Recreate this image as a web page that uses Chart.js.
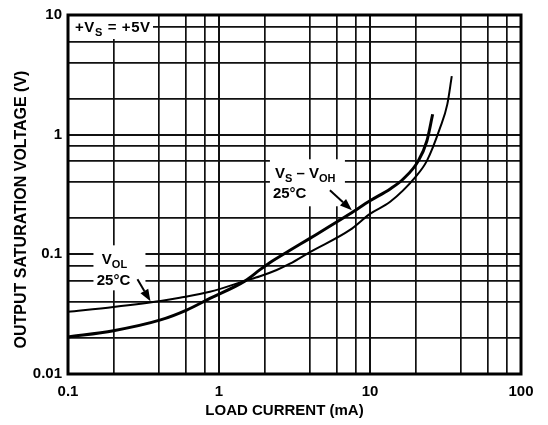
<!DOCTYPE html>
<html><head><meta charset="utf-8">
<script src="https://cdn.jsdelivr.net/npm/chart.js@4.4.0/dist/chart.umd.min.js"></script>
<style>html,body{margin:0;padding:0;background:#fff}</style>
</head><body>
<canvas id="c" width="548" height="425"></canvas>
<script>
// Grid / tick positions
const xTicks = [0.1,0.2,0.4,0.6,0.8,1,2,4,6,8,10,20,40,60,80,100];
const yTicks = [0.01,0.02,0.04,0.06,0.08,0.1,0.2,0.4,0.6,0.8,1,2,4,6,8,10];
const xLabels = [0.1,1,10,100];
const yLabels = [0.01,0.1,1,10];
const xTitle = 'LOAD CURRENT (mA)';
const yTitle = 'OUTPUT SATURATION VOLTAGE (V)';

// V_OL 25°C (thin curve)
const volCurrent = [0.1,0.2,0.41,0.55,0.87,1.49,1.87,2.41,2.95,4.0,7.37,10,13.6,19.9,23.8,29.1,32.5,34.8];
const volVoltage = [0.0331,0.0363,0.0407,0.0433,0.0486,0.060,0.0656,0.0740,0.0835,0.1044,0.160,0.218,0.275,0.44,0.604,1.14,1.79,3.08];

// V_S - V_OH 25°C (thick curve)
const vohCurrent = [0.1,0.2,0.41,0.61,0.87,1.49,1.87,2.18,2.95,4.0,7.37,10,13.6,16.6,20.9,23.8,26.0];
const vohVoltage = [0.0204,0.0230,0.0283,0.0342,0.0428,0.060,0.0745,0.0855,0.108,0.136,0.218,0.28,0.352,0.426,0.604,0.885,1.48];

const FONT = '"Liberation Sans", Arial, Helvetica, sans-serif';

function pts(xs, ys){ return xs.map((x,i)=>({x:x, y:ys[i]})); }

function drawRich(ctx, parts, x, y, align){
  let w = 0;
  parts.forEach(p=>{ ctx.font = 'bold ' + (p.sub?11:15) + 'px ' + FONT; p.w = ctx.measureText(p.t).width; w += p.w; });
  let cx = align === 'center' ? x - w/2 : x;
  ctx.textAlign = 'left'; ctx.textBaseline = 'alphabetic'; ctx.fillStyle = '#000';
  parts.forEach(p=>{ ctx.font = 'bold ' + (p.sub?11:15) + 'px ' + FONT; ctx.fillText(p.t, cx, y + (p.sub?4:0)); cx += p.w; });
}
function arrow(ctx, x1, y1, x2, y2){
  const a = Math.atan2(y2-y1, x2-x1), L = 12, H = 4.5;
  const bx = x2 - L*Math.cos(a), by = y2 - L*Math.sin(a);
  ctx.strokeStyle = '#000'; ctx.lineWidth = 2;
  ctx.beginPath(); ctx.moveTo(x1,y1); ctx.lineTo(bx,by); ctx.stroke();
  ctx.fillStyle = '#000'; ctx.beginPath();
  ctx.moveTo(x2,y2);
  ctx.lineTo(bx + H*Math.sin(a), by - H*Math.cos(a));
  ctx.lineTo(bx - H*Math.sin(a), by + H*Math.cos(a));
  ctx.closePath(); ctx.fill();
}

const annotations = {
  id: 'annotations',
  beforeDatasetsDraw(chart){
    const {ctx, chartArea: ca, scales: {x, y}} = chart;
    ctx.save();
    ctx.fillStyle = '#fff';
    // supply label
    ctx.fillRect(ca.left+1, ca.top+1, 84, 23);
    ctx.letterSpacing = '0.6px';
    drawRich(ctx, [{t:'+V'},{t:'S',sub:true},{t:' = +5V'}], ca.left+7, ca.top+17, 'left');
    ctx.letterSpacing = '0px';
    // V_OL label
    let ax = x.getPixelForValue(0.2), ay = y.getPixelForValue(0.1);
    ctx.fillStyle = '#fff'; ctx.fillRect(ax-20, ay-9, 52, 45);
    drawRich(ctx, [{t:'V'},{t:'OL',sub:true}], ax+1, ay+10, 'center');
    drawRich(ctx, [{t:'25°C'}], ax, ay+31, 'center');
    arrow(ctx, ax+24, ay+25, ax+37, ay+47);
    // V_S - V_OH label
    ax = x.getPixelForValue(4); ay = y.getPixelForValue(0.4);
    ctx.fillStyle = '#fff'; ctx.fillRect(ax-40, ay-23, 75, 47);
    drawRich(ctx, [{t:'V'},{t:'S',sub:true},{t:' – V'},{t:'OH',sub:true}], ax-35, ay-4, 'left');
    drawRich(ctx, [{t:'25°C'}], ax-37, ay+16, 'left');
    arrow(ctx, ax+20, ay+8, ax+42, ay+28);
    ctx.restore();
  },
  afterDraw(chart){
    const {ctx, chartArea: ca} = chart;
    ctx.save(); ctx.strokeStyle = '#000'; ctx.lineWidth = 3;
    ctx.strokeRect(ca.left, ca.top, ca.right-ca.left, ca.bottom-ca.top);
    // axis titles
    ctx.fillStyle = '#000'; ctx.textAlign = 'center'; ctx.textBaseline = 'middle';
    ctx.font = 'bold 15px ' + FONT;
    ctx.fillText(xTitle, (ca.left + ca.right)/2 - 10, ca.bottom + 37);
    ctx.translate(22, (ca.top + ca.bottom)/2 + 15);
    ctx.rotate(-Math.PI/2);
    ctx.font = 'bold 16px ' + FONT;
    ctx.fillText(yTitle, 0, 0);
    ctx.restore();
  }
};

function isDecade(v){ const l = Math.log10(v); return Math.abs(l - Math.round(l)) < 1e-6; }

new Chart(document.getElementById('c'), {
  type: 'line',
  data: {
    datasets: [
      { label: 'VOL 25°C', data: pts(volCurrent, volVoltage), borderColor: '#000', borderWidth: 2, pointRadius: 0, fill: false, cubicInterpolationMode: 'monotone' },
      { label: 'VS - VOH 25°C', data: pts(vohCurrent, vohVoltage), borderColor: '#000', borderWidth: 3, pointRadius: 0, fill: false, cubicInterpolationMode: 'monotone' }
    ]
  },
  options: {
    responsive: false, animation: false, devicePixelRatio: 1,
    layout: { padding: { left: 0, right: 27, top: 13, bottom: 0 } },
    plugins: { legend: { display: false }, tooltip: { enabled: false } },
    scales: {
      x: {
        type: 'logarithmic', min: 0.1, max: 100,
        afterBuildTicks(s){ s.ticks = xTicks.map(v=>({value:v})); },
        afterFit(s){ s.height = 51; },
        grid: { color: '#111', lineWidth: c => isDecade(c.tick.value) ? 2 : 1.7, drawTicks: false },
        border: { display: false },
        ticks: { autoSkip: false, maxRotation: 0, padding: 9, color: '#000', font: { family: FONT, size: 15, weight: 'bold' },
          callback: v => xLabels.includes(v) ? String(v) : '' },
        title: { display: false }
      },
      y: {
        type: 'logarithmic', min: 0.01, max: 10,
        afterBuildTicks(s){ s.ticks = yTicks.map(v=>({value:v})); },
        afterFit(s){ s.width = 68; },
        grid: { color: '#111', lineWidth: c => isDecade(c.tick.value) ? 2 : 1.7, drawTicks: false },
        border: { display: false },
        ticks: { autoSkip: false, padding: 6, color: '#000', font: { family: FONT, size: 15, weight: 'bold' },
          callback: v => yLabels.includes(v) ? String(v) : '' },
        title: { display: false }
      }
    }
  },
  plugins: [annotations]
});
</script>
</body></html>
